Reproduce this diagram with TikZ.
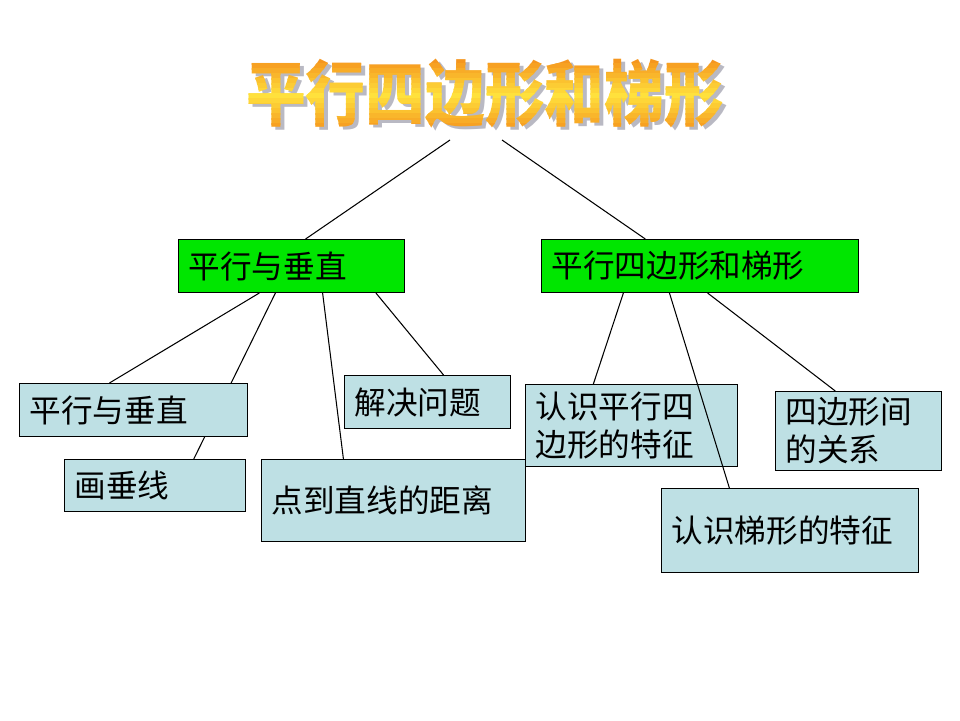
\documentclass[tikz,border=0pt]{standalone}
\usepackage{fontspec}
\newfontfamily\cjk{Noto Sans CJK SC}
\usetikzlibrary{calc,backgrounds}
\definecolor{rootgreen}{RGB}{0,230,0}
\definecolor{leafblue}{RGB}{190,224,228}
\definecolor{titleorange}{RGB}{245,150,30}
\definecolor{titleyellow}{RGB}{255,225,60}
\definecolor{titleshadow}{RGB}{185,185,195}

\begin{document}
\begin{tikzpicture}[x=0.02cm, y=-0.02cm,
        mapbox/.style={draw=black, line width=0.6pt, anchor=north west, inner xsep=0.2cm, inner ysep=0pt, align=left, font=\cjk\fontsize{18}{21.6}\selectfont},
        greenbox/.style={mapbox, fill=rootgreen},
        bluebox/.style={mapbox, fill=leafblue},
        link/.style={draw, line width=0.6pt},
        titlefont/.style={font=\cjk\bfseries\fontsize{34}{40}\selectfont, inner sep=0pt}]
    \useasboundingbox (0,0) rectangle (960,720);

    % title, shadow first, then colour strips
    \node[titlefont, text=titleshadow] (shadow) at (489,97) {\scalebox{1}[1.2]{平行四边形和梯形}};
    \foreach \k in {0,...,13}{
        \pgfmathtruncatemacro\mix{abs(\k-7)*100/7}
        \begin{scope}
            \clip (200,58+5*\k) rectangle (780,64+5*\k);
            \node[titlefont, text=titleorange!\mix!titleyellow] (title\k) at (485,93.5) {\scalebox{1}[1.2]{平行四边形和梯形}};
        \end{scope}
    }
    \coordinate(tl)at(450,140);
    \coordinate(tr)at(502,140);

    % second row
    \node[greenbox, minimum height=1.06cm, text width=4.12cm] (pz) at (178,239) {平行与垂直};
    \node[greenbox, minimum height=1.06cm, text width=5.94cm] (pt) at (541,239) {平行四边形和梯形};

    % third row
    \node[bluebox, minimum height=1.06cm, text width=4.16cm] (pzsub) at (19,383) {平行与垂直};
    \node[bluebox, minimum height=1.04cm, text width=3.22cm] (hcx) at (64,459) {画垂线};
    \node[bluebox, minimum height=1.64cm, text width=4.88cm] (jl) at (261,459) {点到直线的距离};
    \node[bluebox, minimum height=1.06cm, text width=2.92cm] (jj) at (344,375) {解决问题};
    \node[bluebox, minimum height=1.64cm, text width=3.84cm] (pxtz) at (525,384) {认识平行四\\边形的特征};
    \node[bluebox, minimum height=1.58cm, text width=2.92cm] (gx) at (775,391) {四边形间\\的关系};
    \node[bluebox, minimum height=1.68cm, text width=4.74cm] (txtz) at (661,488) {认识梯形的特征};

    \begin{scope}[on background layer]
        \path[link]($(pz.south west)!0.429!(pz.south east)$)to($(hcx.north west)!0.713!(hcx.north east)$);
    \end{scope}

    \path[link](tl)to($(pz.north west)!0.562!(pz.north east)$);
    \path[link](tr)to($(pt.north west)!0.328!(pt.north east)$);
    \path[link]($(pz.south west)!0.358!(pz.south east)$)to($(pzsub.north west)!0.395!(pzsub.north east)$);
    \path[link]($(pz.south west)!0.637!(pz.south east)$)to($(jl.north west)!0.311!(jl.north east)$);
    \path[link]($(pz.south west)!0.872!(pz.south east)$)to($(jj.north west)!0.596!(jj.north east)$);
    \path[link]($(pt.south west)!0.259!(pt.south east)$)to($(pxtz.north west)!0.321!(pxtz.north east)$);
    \path[link]($(pt.south west)!0.404!(pt.south east)$)to($(txtz.north west)!0.265!(txtz.north east)$);
    \path[link]($(pt.south west)!0.524!(pt.south east)$)to($(gx.north west)!0.361!(gx.north east)$);
\end{tikzpicture}
\end{document}
